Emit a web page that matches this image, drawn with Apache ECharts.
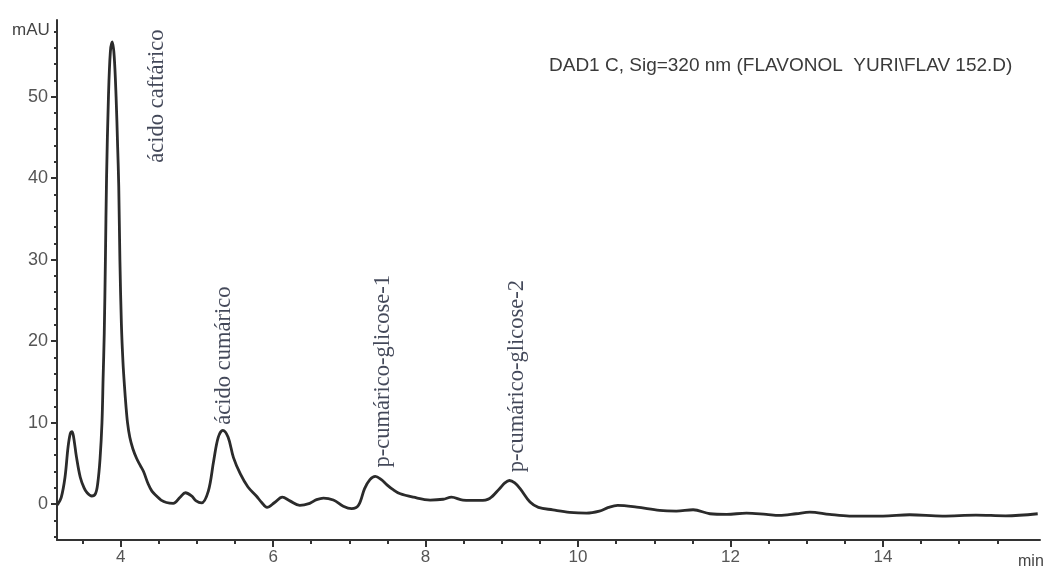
<!DOCTYPE html>
<html>
<head>
<meta charset="utf-8">
<script src="https://cdn.jsdelivr.net/npm/echarts@6/dist/echarts.min.js"></script>
<style>html,body{margin:0;padding:0;background:#fff}#c{width:1047px;height:566px}</style>
</head>
<body>
<div id="c"></div>
<script>
// Retention time (min) and absorbance (mAU)
const times = [3.17,3.22,3.27,3.31,3.34,3.36,3.38,3.42,3.47,3.52,3.56,3.62,3.67,3.70,3.73,3.755,3.77,3.785,3.80,3.815,3.84,3.865,3.89,3.915,3.94,3.96,3.975,3.99,4.01,4.03,4.05,4.07,4.09,4.12,4.16,4.21,4.26,4.30,4.36,4.41,4.47,4.53,4.6,4.69,4.78,4.85,4.93,4.99,5.06,5.15,5.22,5.28,5.34,5.41,5.48,5.57,5.67,5.78,5.85,5.92,6.02,6.12,6.22,6.35,6.48,6.57,6.66,6.79,6.92,7.03,7.12,7.2,7.27,7.34,7.42,7.49,7.57,7.66,7.84,8.06,8.23,8.34,8.49,8.71,8.84,8.97,9.04,9.1,9.17,9.24,9.37,9.48,9.67,9.89,10.11,10.28,10.4,10.52,10.77,11.07,11.29,11.51,11.73,11.95,12.21,12.47,12.64,12.86,13.04,13.3,13.56,14.0,14.35,14.78,15.22,15.61,16.03];
const mAU   = [-0.1,0.8,3.3,7.0,8.7,8.9,8.4,5.8,3.3,2.0,1.4,1.0,1.3,2.6,5.6,10.0,15.5,21.0,30.0,40.0,50.0,55.5,56.7,55.0,50.0,44.0,39.0,30.0,22.0,17.5,14.5,12.0,10.0,8.2,6.8,5.6,4.7,4.0,2.5,1.6,1.0,0.5,0.2,0.1,0.85,1.4,1.0,0.4,0.15,1.6,5.3,8.2,9.05,8.2,5.7,3.7,2.1,1.0,0.2,-0.4,0.2,0.85,0.4,-0.15,0.1,0.55,0.75,0.5,-0.25,-0.55,-0.15,1.9,3.0,3.4,3.0,2.4,1.8,1.3,0.85,0.5,0.6,0.85,0.5,0.45,0.7,1.9,2.6,2.9,2.6,1.9,0.25,-0.4,-0.7,-1.0,-1.1,-0.85,-0.4,-0.16,-0.37,-0.77,-0.85,-0.69,-1.18,-1.26,-1.1,-1.26,-1.38,-1.18,-0.98,-1.26,-1.46,-1.46,-1.3,-1.46,-1.34,-1.43,-1.18];

// Peak annotations: name, retention time, level where the text starts
const peakNames = ['ácido caftárico','ácido cumárico','p-cumárico-glicose-1','p-cumárico-glicose-2'];
const peakTimes = [4.48, 5.36, 7.44, 9.2];
const peakLabelY = [41.9, 9.75, 4.5, 3.9];

// Axis ticks
const xLabelTicks = [4,6,8,10,12,14];
const xMinorTicks = [3.5,4.5,5,5.5,6.5,7,7.5,8.5,9,9.5,10.5,11,11.5,12.5,13,13.5,14.5,15,15.5];
const yLabelTicks = [0,10,20,30,40,50];
const yMinorTicks = [-4,-2,2,4,6,8,12,14,16,18,22,24,26,28,32,34,36,38,42,44,46,48,52,54,56,58];

const X_MIN = 3.165, X_MAX = 16.06, Y_MIN = -4.4, Y_MAX = 59.4;

const curve = times.map((t, i) => [t, mAU[i]]);
const peaks = peakNames.map((n, i) => [peakTimes[i], peakLabelY[i], n]);

const axisColor = '#333';
const labelColor = '#555';
const sans = '"Liberation Sans", Arial, sans-serif';

const chart = echarts.init(document.getElementById('c'), null, {renderer: 'canvas'});
chart.setOption({
  animation: false,
  backgroundColor: '#fff',
  title: [
    {text: 'DAD1 C, Sig=320 nm (FLAVONOL  YURI\\FLAV 152.D)', left: 544, top: 51,
     textStyle: {fontFamily: sans, fontSize: 19, fontWeight: 'normal', color: '#3a3a3a'}},
    {text: 'mAU', left: 7, top: 17,
     textStyle: {fontFamily: sans, fontSize: 17, fontWeight: 'normal', color: '#444'}},
    {text: 'min', left: 1013, top: 549,
     textStyle: {fontFamily: sans, fontSize: 16, fontWeight: 'normal', color: '#444'}}
  ],
  grid: {left: 57, right: 1047 - 1040, top: 20, bottom: 566 - 543, containLabel: false},
  xAxis: [
    {type: 'value', min: X_MIN, max: X_MAX,
     axisLine: {show: true, onZero: false, lineStyle: {color: axisColor, width: 2}},
     axisTick: {show: true, length: 7, customValues: xLabelTicks, lineStyle: {color: axisColor, width: 2}},
     axisLabel: {show: true, customValues: xLabelTicks, margin: 9, fontFamily: sans, fontSize: 17, color: labelColor},
     splitLine: {show: false}},
    {type: 'value', min: X_MIN, max: X_MAX, position: 'bottom',
     axisLine: {show: false, onZero: false},
     axisTick: {show: true, length: 4, customValues: xMinorTicks, lineStyle: {color: axisColor, width: 2}},
     axisLabel: {show: false}, splitLine: {show: false}}
  ],
  yAxis: [
    {type: 'value', min: Y_MIN, max: Y_MAX,
     axisLine: {show: true, onZero: false, lineStyle: {color: axisColor, width: 2}},
     axisTick: {show: true, length: 6, customValues: yLabelTicks, lineStyle: {color: axisColor, width: 2}},
     axisLabel: {show: true, customValues: yLabelTicks, margin: 9, fontFamily: sans, fontSize: 18, color: labelColor},
     splitLine: {show: false}},
    {type: 'value', min: Y_MIN, max: Y_MAX, position: 'left',
     axisLine: {show: false, onZero: false},
     axisTick: {show: true, length: 3, customValues: yMinorTicks, lineStyle: {color: axisColor, width: 2}},
     axisLabel: {show: false}, splitLine: {show: false}}
  ],
  series: [
    {type: 'line', xAxisIndex: 0, yAxisIndex: 0, data: curve, showSymbol: false, smooth: 0.35,
     lineStyle: {color: '#2b2b2b', width: 2.8}},
    {type: 'scatter', xAxisIndex: 0, yAxisIndex: 0, data: peaks, symbolSize: 0,
     label: {show: true, position: [0, 0], rotate: 90, align: 'left', verticalAlign: 'middle',
             formatter: p => p.data[2],
             fontFamily: '"Liberation Serif", "Times New Roman", serif', fontSize: 22.5, color: '#141a30'}}
  ]
});
</script>
</body>
</html>
